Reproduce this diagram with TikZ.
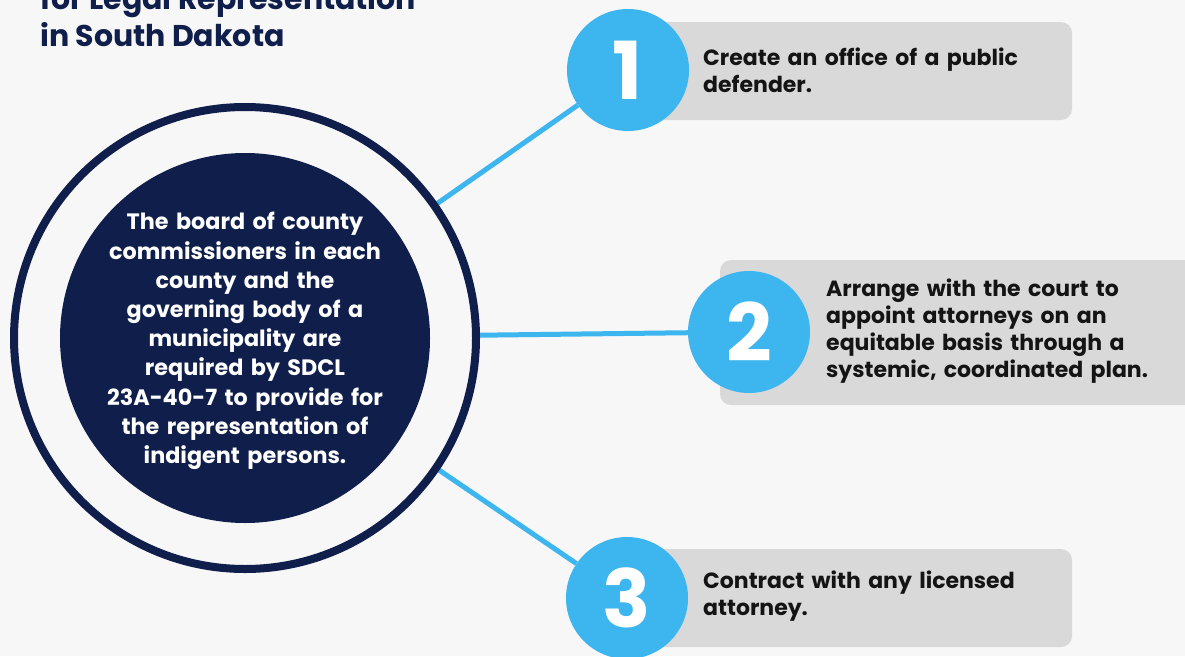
\documentclass[tikz,border=0pt]{standalone}
\usepackage{fontspec}
\setmainfont{Poppins}
\usetikzlibrary{backgrounds}
\definecolor{deepnavy}{HTML}{0F1E4B}
\definecolor{skyblue}{HTML}{3DB5EE}
\definecolor{panelgrey}{HTML}{D9D9D9}
\definecolor{pagegrey}{HTML}{F7F7F7}
\definecolor{inkblack}{HTML}{141414}

\begin{document}
\begin{tikzpicture}[x=1pt, y=-1pt,
    ring/.style={circle, draw=deepnavy, line width=8pt, fill=pagegrey, minimum size=462pt, inner sep=0pt},
    core/.style={circle, fill=deepnavy, minimum size=370pt, inner sep=0pt},
    coretext/.style={text=white, text width=330pt, align=center, inner sep=0pt, font=\bfseries\fontsize{22.3}{29.2}\selectfont},
    badge/.style={circle, fill=skyblue, minimum size=122pt, inner sep=0pt, text=white, font=\bfseries\fontsize{80}{80}\selectfont},
    panel/.style={rectangle, rounded corners=11pt, fill=panelgrey, minimum height=98pt},
    paneltext/.style={anchor=west, text width=400pt, align=left, inner sep=0pt, text=inkblack, font=\bfseries\fontsize{22}{27}\selectfont},
    heading/.style={anchor=south west, align=left, inner sep=0pt, text=deepnavy, font=\bfseries\fontsize{30}{37}\selectfont},
    link/.style={draw=skyblue, line width=5pt}
]
    \useasboundingbox (0,0) rectangle (1185,656);

    % Title, cut at the top edge
    \node[heading] (title) at (40,47) {for Legal Representation\\in South Dakota};

    % Option panels
    \node[panel, minimum width=422pt] (panel1) at (861,71) {};
    \node[panel, minimum width=480pt, minimum height=145pt] (panel2) at (960,332.5) {};
    \node[panel, minimum width=422pt] (panel3) at (861,598) {};

    \node[paneltext] (text1) at (703,70) {Create an office of a public\\defender.};
    \node[paneltext] (text2) at (826,331) {Arrange with the court to\\appoint attorneys on an\\equitable basis through a\\systemic, coordinated plan.};
    \node[paneltext] (text3) at (703,596) {Contract with any licensed\\attorney.};

    % Numbered badges
    \node[badge] (one) at (628,70) {1};
    \node[badge] (two) at (749,332) {2};
    \node[badge] (three) at (627,598) {3};

    % Central statement
    \node[ring] (outer) at (245,338) {};
    \node[core] (core) at (245,338) {};
    \node[coretext] (statement) at (245,341) {The board of county\\commissioners in each\\county and the\\governing body of a\\municipality are\\required by SDCL\\23A-40-7 to provide for\\the representation of\\indigent persons.};

    \begin{scope}[on background layer]
        \fill[pagegrey] (0,0) rectangle (1185,656);
        \draw[link] (core) -- (one);
        \draw[link] (core) -- (two);
        \draw[link] (core) -- (three);
    \end{scope}
\end{tikzpicture}
\end{document}
